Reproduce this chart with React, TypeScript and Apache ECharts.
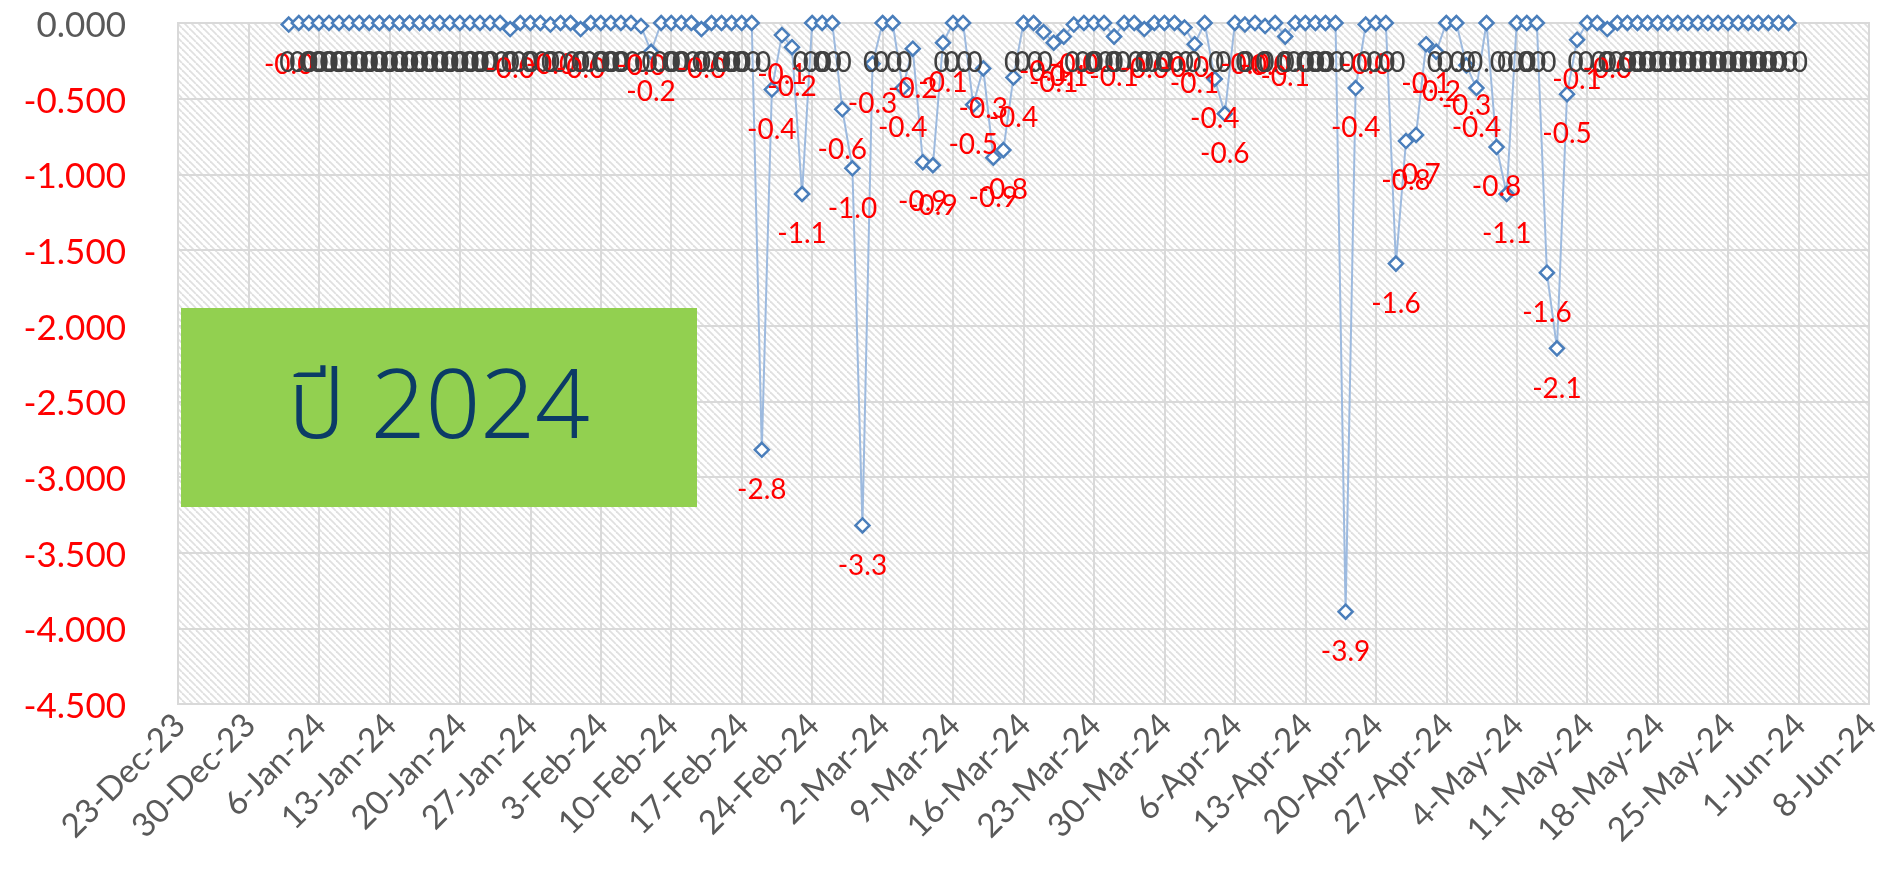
import React, { useEffect, useRef } from "react";
import * as echarts from "echarts";

// Daily values, 3-Jan-2024 .. 31-May-2024
const START_DATE = "2024-01-03";
const AXIS_START = "2023-12-23";
const AXIS_END = "2024-06-08";

const jan = [
  -0.01, 0, 0, 0, 0, 0, 0, 0, 0, 0, 0, 0, 0, 0, 0, 0, 0, 0, 0, 0, 0, 0,
  -0.04, 0, 0, 0, -0.01, 0, 0,
];
const feb = [
  -0.04, 0, 0, 0, 0, 0, -0.02, -0.19, 0, 0, 0, 0, -0.04, 0, 0, 0, 0, 0,
  -2.82, -0.44, -0.08, -0.16, -1.13, 0, 0, 0, -0.57, -0.96, -3.32,
];
const mar = [
  -0.27, 0, 0, -0.43, -0.17, -0.92, -0.94, -0.13, 0, 0, -0.54, -0.3, -0.89,
  -0.84, -0.36, 0, 0, -0.06, -0.13, -0.09, -0.01, 0, 0, 0, -0.09, 0, 0, -0.04,
  0, 0, 0,
];
const apr = [
  -0.03, -0.14, 0, -0.37, -0.6, 0, -0.01, 0, -0.02, 0, -0.09, 0, 0, 0, 0, 0,
  -3.89, -0.43, -0.01, 0, 0, -1.59, -0.78, -0.74, -0.14, -0.19, 0, 0, -0.28,
  -0.43,
];
const may = [
  0, -0.82, -1.13, 0, 0, 0, -1.65, -2.15, -0.47, -0.11, 0, 0, -0.04, 0, 0, 0,
  0, 0, 0, 0, 0, 0, 0, 0, 0, 0, 0, 0, 0, 0, 0,
];

const Y_MIN = -4.5;
const Y_MAX = 0;
const Y_STEP = 0.5;
const WEEK = 7;
const MONTHS = ["Jan", "Feb", "Mar", "Apr", "May", "Jun", "Jul", "Aug", "Sep", "Oct", "Nov", "Dec"];
const TITLE_TEXT = "ปี 2024";

const DAY_MS = 86400000;
const toUTC = (s: string) => {
  const [y, m, d] = s.split("-").map(Number);
  return Date.UTC(y, m - 1, d);
};

export default function App() {
  const ref = useRef<HTMLDivElement>(null);

  useEffect(() => {
    if (!ref.current) return;
    const chart = echarts.init(ref.current, undefined, { renderer: "svg" });

    const axisStart = toUTC(AXIS_START);
    const axisEndDay = (toUTC(AXIS_END) - axisStart) / DAY_MS;
    const firstDay = (toUTC(START_DATE) - axisStart) / DAY_MS;
    const values = [...jan, ...feb, ...mar, ...apr, ...may];
    const points = values.map((v, i) => [firstDay + i, v]);

    const tile = 7;
    const cv = document.createElement("canvas");
    cv.width = tile;
    cv.height = tile;
    const ctx = cv.getContext("2d")!;
    ctx.fillStyle = "#ffffff";
    ctx.fillRect(0, 0, tile, tile);
    ctx.strokeStyle = "#e0e0e0";
    ctx.lineWidth = 1.8;
    for (const k of [-tile, 0, tile]) {
      ctx.beginPath();
      ctx.moveTo(k, 0);
      ctx.lineTo(k + tile, tile);
      ctx.stroke();
    }

    const fmtDate = (v: number) => {
      const dt = new Date(axisStart + Math.round(v) * DAY_MS);
      return `${dt.getUTCDate()}-${MONTHS[dt.getUTCMonth()]}-${String(dt.getUTCFullYear()).slice(2)}`;
    };

    const labelFont = "Lato, 'Open Sans', sans-serif";

    chart.setOption({
      animation: false,
      grid: {
        left: 178,
        right: 14,
        top: 23,
        bottom: 165,
        show: true,
        backgroundColor: { image: cv, repeat: "repeat", imageWidth: tile, imageHeight: tile } as any,
        borderColor: "#d9d9d9",
        borderWidth: 2,
      },
      xAxis: {
        type: "value",
        min: 0,
        max: axisEndDay,
        interval: WEEK,
        axisLine: { show: false },
        axisTick: { show: false },
        splitLine: { show: true, lineStyle: { color: "#d9d9d9", width: 2 } },
        axisLabel: {
          rotate: 45,
          margin: 14,
          color: "#595959",
          fontSize: 33,
          fontFamily: labelFont,
          formatter: (v: number) => fmtDate(v),
        },
      },
      yAxis: {
        type: "value",
        min: Y_MIN,
        max: Y_MAX,
        interval: Y_STEP,
        axisLine: { show: false },
        axisTick: { show: false },
        splitLine: { show: true, lineStyle: { color: "#d9d9d9", width: 2 } },
        axisLabel: {
          margin: 52,
          formatter: (v: number) =>
            Math.abs(v) < 1e-9 ? "{g|0.000}" : `{r|${v.toFixed(3)}}`,
          rich: {
            g: { color: "#595959", fontSize: 35, fontFamily: labelFont },
            r: { color: "#ff0000", fontSize: 35, fontFamily: labelFont },
          },
        },
      },
      graphic: [
        {
          type: "rect",
          left: 181,
          top: 308,
          z: 10,
          shape: { width: 516, height: 199 },
          style: { fill: "#92d050" },
        },
        {
          type: "text",
          x: 439,
          y: 408,
          z: 11,
          style: {
            text: TITLE_TEXT,
            fill: "#0b3b66",
            fontSize: 96,
            fontWeight: 300,
            fontFamily: "'Noto Sans Thai', 'Leelawadee UI', Tahoma, 'Liberation Sans', sans-serif",
            align: "center",
            verticalAlign: "middle",
          },
        },
      ],
      series: [
        {
          type: "line",
          data: points,
          clip: false,
          symbol: "diamond",
          symbolSize: 14,
          z: 20,
          lineStyle: { color: "#9dbadf", width: 2 },
          itemStyle: { color: "#ffffff", borderColor: "#4a7ebb", borderWidth: 2.5 },
          emphasis: { disabled: true },
          label: {
            show: true,
            position: "bottom",
            distance: 16,
            formatter: (p: any) => {
              const v = p.value[1];
              const t = v.toFixed(1);
              return v < 0 ? `{r|${t}}` : `{z|${t}}`;
            },
            rich: {
              r: { color: "#ff0000", fontSize: 28, fontFamily: labelFont },
              z: { color: "#404040", fontSize: 28, fontFamily: labelFont },
            },
          },
        },
      ],
    });

    return () => chart.dispose();
  }, []);

  return (
    <div
      ref={ref}
      style={{ position: "fixed", left: 0, top: 0, width: 1883, height: 869 }}
    />
  );
}
